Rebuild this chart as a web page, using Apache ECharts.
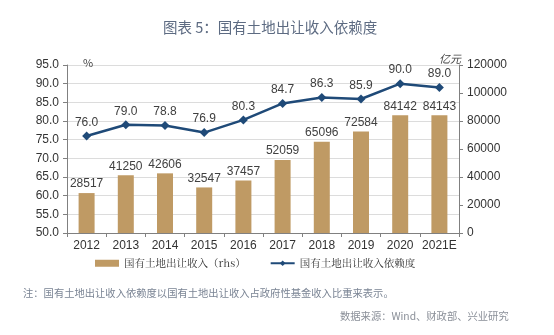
<!DOCTYPE html>
<html><head><meta charset="utf-8">
<script src="https://cdn.jsdelivr.net/npm/echarts@6/dist/echarts.min.js"></script>
<style>html,body{margin:0;padding:0;background:#fff}#c{width:554px;height:335px}</style>
</head><body><div id="c"></div>
<script>
const categories = ['2012','2013','2014','2015','2016','2017','2018','2019','2020','2021E'];
const landRevenue = [28517,41250,42606,32547,37457,52059,65096,72584,84142,84143];
const dependency = [76.0,79.0,78.8,76.9,80.3,84.7,86.3,85.9,90.0,89.0];
const barName = '国有土地出让收入（rhs）';
const lineName = '国有土地出让收入依赖度';

const chart = echarts.init(document.getElementById('c'));
const axisFont = {fontFamily:'"Liberation Sans", Arial, sans-serif', fontSize:12, color:'#333'};
chart.setOption({
  animation:false,
  title:[
    {text:'图表 5：国有土地出让收入依赖度', left:158, top:15,
     textStyle:{fontFamily:'"Noto Sans CJK SC"', fontSize:14.5, fontWeight:'normal', color:'#5d6b82'}},
    {text:'%', left:78, top:52, textStyle:{fontSize:11, fontWeight:'normal', color:'#444', fontFamily:'"Noto Sans CJK SC"'}},
    {text:'亿元', left:434, top:48, textStyle:{fontSize:11, fontWeight:'normal', color:'#444', fontStyle:'italic', fontFamily:'"Noto Sans CJK SC"'}},
    {text:'注：国有土地出让收入依赖度以国有土地出让收入占政府性基金收入比重来表示。', left:18, top:283,
     textStyle:{fontFamily:'"Noto Sans CJK SC"', fontSize:10.3, fontWeight:'normal', color:'#7a8494'}},
    {text:'数据来源：Wind、财政部、兴业研究', left:335, top:306,
     textStyle:{fontFamily:'"Noto Sans CJK SC"', fontSize:10.3, fontWeight:'normal', color:'#8a8f98'}}
  ],
  grid:{left:67, right:95, top:65, bottom:102},
  legend:{
    top:253, left:90, itemGap:24, itemWidth:24, itemHeight:7, itemStyle:{borderWidth:0},
    textStyle:{fontFamily:'"Noto Serif CJK SC","Noto Sans CJK SC"', fontSize:10.5, color:'#333'},
    data:[{name:barName, icon:'rect'}, {name:lineName}]
  },
  xAxis:{
    type:'category', data:categories,
    axisLine:{lineStyle:{color:'#808080'}},
    axisTick:{show:true, length:4, lineStyle:{color:'#808080'}},
    axisLabel:Object.assign({margin:7, interval:0}, axisFont)
  },
  yAxis:[
    {type:'value', min:50, max:95, interval:5,
     axisLine:{show:true, lineStyle:{color:'#808080'}},
     axisTick:{show:true, length:4},
     splitLine:{lineStyle:{color:'#dcdcdc'}},
     axisLabel:Object.assign({formatter:v=>v.toFixed(1)}, axisFont)},
    {type:'value', min:0, max:120000, interval:20000, position:'right',
     axisLine:{show:true, lineStyle:{color:'#808080'}},
     axisTick:{show:true, length:4},
     splitLine:{show:false},
     axisLabel:Object.assign({formatter:v=>String(v)}, axisFont)}
  ],
  series:[
    {name:barName, type:'bar', yAxisIndex:1, data:landRevenue, barWidth:16,
     itemStyle:{color:'#bf9a64'},
     label:{show:true, position:'top', distance:3, fontSize:12, color:'#404040', fontFamily:'"Liberation Sans", Arial, sans-serif'}},
    {name:lineName, type:'line', yAxisIndex:0, data:dependency,
     symbol:'diamond', symbolSize:9, lineStyle:{color:'#1f4a78', width:2.5},
     itemStyle:{color:'#1f4a78'},
     label:{show:true, position:'top', distance:3, fontSize:12, color:'#404040', fontFamily:'"Liberation Sans", Arial, sans-serif', formatter:p=>p.value.toFixed(1)}}
  ]
});
</script></body></html>
